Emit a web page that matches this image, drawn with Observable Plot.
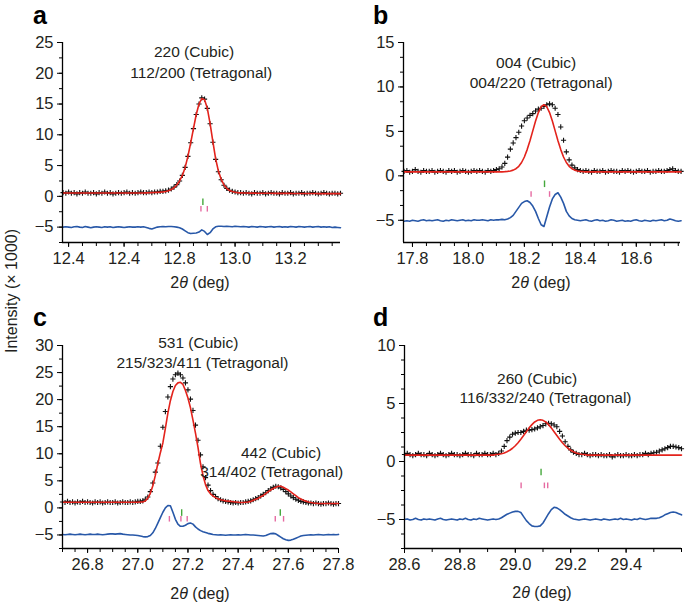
<!DOCTYPE html>
<html><head><meta charset="utf-8">
<script src="https://cdn.jsdelivr.net/npm/d3@7"></script>
<script src="https://cdn.jsdelivr.net/npm/@observablehq/plot@0.6"></script>
<style>
body{margin:0;background:#fff;}
#root{position:relative;width:685px;height:603px;overflow:hidden;background:#fff;}
#root svg.pl{position:absolute;}
</style></head><body><div id="root"></div>
<script>
// ---------- data, sampling step 0.01 deg ----------
const stepDeg = 0.01;

// Panel a : 220 (Cubic)
const startA = 12.38;
const obsA = [0.6,0.5,0.7,0.5,0.6,0.4,0.6,0.5,0.7,0.5,
 0.5,0.6,0.4,0.6,0.5,0.7,0.5,0.6,0.4,0.5,
 0.6,0.5,0.6,0.7,0.5,0.6,0.5,0.6,0.7,0.6,
 0.6,0.7,0.6,0.7,0.7,0.8,0.8,0.9,1.0,1.2,
 1.5,1.9,2.5,3.4,4.7,6.5,8.7,11.0,13.3,15.0,
 16.0,15.8,14.3,11.8,8.8,6.0,4.0,2.7,1.8,1.3,
 1.0,0.8,0.7,0.6,
 0.6,0.5,0.6,0.5,0.4,0.6,0.5,0.5,0.6,0.4,
 0.5,0.6,0.5,0.5,0.4,0.6,0.5,0.5,0.6,0.4,
 0.5,0.5,0.6,0.4,0.5,0.5,0.6,0.5,0.4,0.5,
 0.6,0.5,0.4,0.5,0.5,0.4,0.5];
const calcA = [0.55,0.55,0.55,0.55,0.55,0.55,0.55,0.55,0.55,0.55,
 0.55,0.55,0.55,0.55,0.55,0.55,0.55,0.55,0.55,0.55,
 0.55,0.55,0.55,0.55,0.55,0.55,0.55,0.55,0.55,0.55,
 0.57,0.58,0.6,0.62,0.65,0.68,0.73,0.8,0.9,1.1,
 1.4,1.85,2.5,3.4,4.7,6.5,8.7,11.0,13.3,15.0,
 15.9,15.7,14.3,11.8,8.9,6.1,4.1,2.75,1.85,1.3,
 0.95,0.78,0.67,0.6,
 0.57,0.55,0.54,0.53,0.52,0.52,0.51,0.51,0.5,0.5,
 0.5,0.5,0.49,0.49,0.49,0.48,0.48,0.48,0.48,0.47,
 0.47,0.47,0.47,0.46,0.46,0.46,0.46,0.46,0.45,0.45,
 0.45,0.45,0.45,0.45,0.44,0.44,0.44];
const diffA = [-5.0,-4.95,-5.0,-5.05,-4.95,-4.9,-5.0,-5.05,-4.9,-5.0,
 -5.1,-5.0,-4.95,-5.0,-5.05,-4.95,-5.0,-4.95,-5.05,-5.0,
 -4.95,-5.0,-5.05,-5.0,-4.95,-5.0,-5.0,-4.95,-5.0,-4.95,
 -5.05,-5.2,-5.3,-5.15,-5.0,-4.95,-4.9,-4.95,-4.9,-4.9,
 -4.95,-5.0,-5.1,-5.3,-5.6,-5.9,-6.05,-6.0,-5.95,-5.8,
 -5.45,-5.7,-6.2,-5.9,-5.3,-4.95,-4.85,-4.85,-4.9,-4.85,
 -4.9,-4.95,-4.85,-4.9,-4.95,-4.9,-4.95,-5.0,-4.9,-4.95,
 -5.0,-4.9,-4.95,-5.0,-4.95,-4.9,-5.0,-4.95,-4.9,-5.0,
 -4.95,-5.0,-4.9,-4.95,-5.0,-4.9,-4.95,-5.0,-4.95,-4.9,
 -5.0,-4.95,-4.9,-5.0,-4.95,-5.0,-4.95,-5.05,-5.0,-5.05,-5.1];
const cubicA = [12.884];
const tetraA = [12.877, 12.900];
const xTicksA = [12.4, 12.6, 12.8, 13.0, 13.2];
const xTickLabelsA = ["12.4", "12.4", "12.8", "13.0", "13.2"];
const yTicksA = [-5, 0, 5, 10, 15, 20, 25];
const notesA = [{x: 12.852, y: 23.4, t: "220 (Cubic)"}, {x: 12.878, y: 20.0, t: "112/200 (Tetragonal)"}];

// Panel b : 004 (Cubic)
const startB = 17.77;
const obsB = [0.5,0.6,0.4,0.5,0.7,0.5,0.4,0.6,0.5,0.5,
 0.6,0.4,0.5,0.6,0.5,0.4,0.6,0.5,0.6,0.4,
 0.5,0.6,0.5,0.4,0.5,0.6,0.5,0.6,0.5,0.4,
 0.6,0.5,0.6,0.7,0.8,1.0,1.4,2.1,3.0,3.7,
 4.3,4.9,5.6,6.2,6.5,6.8,7.0,7.3,7.5,7.6,
 7.8,8.0,8.1,8.0,7.6,6.9,5.5,4.0,2.7,1.8,
 1.2,0.9,0.7,0.6,0.5,0.6,0.5,0.4,0.6,0.5,
 0.5,0.6,0.4,0.5,0.6,0.5,0.5,0.4,0.6,0.5,
 0.6,0.5,0.4,0.5,0.6,0.5,0.5,0.6,0.4,0.5,
 0.5,0.6,0.5,0.5,0.6,0.7,0.8,0.6,0.5,0.5];
const calcB = [0.45,0.45,0.45,0.45,0.45,0.45,0.45,0.45,0.45,0.45,
 0.45,0.45,0.45,0.45,0.45,0.45,0.45,0.45,0.45,0.45,
 0.45,0.45,0.45,0.45,0.45,0.45,0.45,0.45,0.45,0.45,
 0.45,0.45,0.45,0.45,0.45,0.45,
 0.47,0.5,0.55,0.64,0.8,1.07,1.5,2.12,2.95,3.95,
 5.06,6.17,7.12,7.77,8.0,7.77,7.12,6.17,5.06,3.95,
 2.95,2.12,1.5,1.07,0.8,0.64,0.55,0.5,0.47,
 0.45,0.45,0.45,0.45,0.45,0.45,0.45,0.45,0.45,0.45,
 0.45,0.45,0.45,0.45,0.45,0.45,0.45,0.45,0.45,0.45,
 0.45,0.45,0.45,0.45,0.45,0.45,0.45,0.45,0.45,0.45,
 0.45,0.45,0.45,0.45,0.45];
const diffB = [-5.1,-5.05,-5.1,-5.0,-5.05,-5.1,-5.0,-4.95,-5.05,-5.0,
 -5.05,-5.0,-4.95,-5.05,-5.1,-5.0,-5.05,-4.95,-5.0,-5.05,
 -5.0,-4.95,-5.05,-5.0,-5.05,-4.95,-5.0,-5.0,-4.95,-5.0,
 -5.05,-4.95,-5.0,-4.95,-4.95,-4.9,-4.95,-4.85,-4.7,-4.45,
 -4.0,-3.55,-3.1,-2.9,-2.8,-3.0,-3.4,-4.0,-4.8,-5.5,
 -5.7,-4.6,-3.5,-2.6,-2.1,-1.9,-2.4,-3.1,-4.0,-4.5,
 -4.8,-4.95,-5.0,-5.05,-5.0,-4.95,-5.05,-5.1,-5.0,-4.95,
 -5.05,-5.0,-5.1,-5.05,-4.95,-5.0,-5.1,-5.05,-5.0,-5.1,
 -5.05,-5.1,-5.0,-4.95,-5.05,-5.1,-5.0,-5.05,-5.1,-5.0,
 -5.05,-5.0,-4.95,-5.05,-5.0,-4.85,-4.95,-5.05,-5.1,-5.05];
const cubicB = [18.272];
const tetraB = [18.224, 18.290];
const xTicksB = [17.8, 18.0, 18.2, 18.4, 18.6];
const xTickLabelsB = ["17.8", "18.0", "18.2", "18.4", "18.6"];
const yTicksB = [-5, 0, 5, 10, 15];
const notesB = [{x: 18.242, y: 12.64, t: "004 (Cubic)"}, {x: 18.26, y: 10.4, t: "004/220 (Tetragonal)"}];

// Panel c : 531 and 442 (Cubic)
const startC = 26.70;
const obsC = [1.1,1.0,1.2,1.0,1.1,0.9,1.1,1.0,1.2,1.0,
 1.1,1.0,0.9,1.1,1.0,1.1,0.9,1.0,1.1,1.0,
 1.0,1.1,0.9,1.0,1.1,1.0,1.0,1.1,1.0,1.1,
 1.2,1.2,1.3,1.6,2.0,3.0,4.6,6.6,8.3,11.4,
 14.9,17.8,20.5,22.4,23.8,24.6,24.9,24.6,24.0,23.1,
 21.8,20.1,18.0,15.3,12.5,9.8,7.6,5.6,4.2,3.2,
 2.5,2.1,1.7,1.5,1.3,1.2,1.1,1.0,0.9,1.0,
 0.9,1.0,1.0,1.1,1.2,1.3,1.5,1.7,1.9,2.2,
 2.5,2.8,3.2,3.5,3.8,4.0,3.9,3.7,3.4,3.0,
 2.6,2.2,1.9,1.6,1.4,1.2,1.1,1.0,0.9,0.9,
 0.8,0.9,0.8,0.7,0.8,0.8,0.9,0.8,0.7,0.8,0.8];
const calcC = [1.05,1.05,1.05,1.05,1.05,1.05,1.05,1.05,1.05,1.05,
 1.05,1.05,1.05,1.05,1.05,1.05,1.05,1.05,1.05,1.05,
 1.05,1.05,1.05,1.05,1.05,1.05,1.05,1.05,1.05,1.05,
 1.05,1.08,1.1,1.3,1.8,2.7,4.1,6.0,8.2,10.2,
 12.0,14.7,17.5,19.8,21.5,22.6,23.1,23.2,22.8,21.7,
 20.3,18.5,16.2,13.8,11.2,8.2,6.0,4.3,3.2,2.6,
 2.2,1.9,1.7,1.5,1.4,1.3,1.25,1.2,1.15,1.1,
 1.05,1.0,1.0,1.05,1.1,1.2,1.4,1.6,1.8,2.05,
 2.3,2.65,3.0,3.3,3.6,3.8,4.0,4.0,3.8,3.55,
 3.3,2.95,2.6,2.25,1.9,1.65,1.4,1.25,1.1,1.0,
 0.9,0.85,0.8,0.8,0.8,0.8,0.8,0.8,0.8,0.8,0.8];
const diffC = [-4.9,-4.95,-4.9,-4.85,-4.9,-4.95,-4.9,-4.85,-4.9,-4.95,
 -4.9,-4.85,-4.9,-4.9,-4.85,-4.9,-4.95,-4.9,-4.85,-4.8,
 -4.8,-4.85,-4.8,-4.75,-4.85,-4.9,-4.95,-5.0,-5.0,-5.05,
 -5.1,-5.2,-5.3,-5.35,-5.3,-5.1,-4.6,-3.8,-2.8,-1.8,
 -0.8,0.0,0.45,0.4,-0.8,-2.1,-3.0,-3.4,-3.4,-3.2,
 -2.9,-2.8,-3.0,-3.5,-3.9,-4.2,-4.4,-4.55,-4.7,-4.8,
 -4.9,-4.95,-5.0,-4.95,-5.0,-5.05,-5.0,-4.95,-5.0,-5.0,
 -4.95,-5.0,-4.95,-4.9,-4.95,-5.0,-5.0,-5.05,-5.1,-5.15,
 -5.2,-5.1,-4.9,-4.75,-4.7,-4.8,-5.1,-5.4,-5.7,-5.9,
 -6.0,-5.95,-5.8,-5.6,-5.4,-5.2,-5.1,-5.05,-5.0,-4.95,
 -5.0,-4.95,-4.9,-4.95,-5.0,-4.95,-4.9,-4.95,-4.9,-4.95,-4.9];
const cubicC = [27.175, 27.568];
const tetraC = [27.126, 27.172, 27.197, 27.548, 27.581];
const xTicksC = [26.8, 27.0, 27.2, 27.4, 27.6, 27.8];
const xTickLabelsC = ["26.8", "27.0", "27.2", "27.4", "27.6", "27.8"];
const yTicksC = [-5, 0, 5, 10, 15, 20, 25, 30];
const notesC = [{x: 27.241, y: 30.5, t: "531 (Cubic)"}, {x: 27.258, y: 26.8, t: "215/323/411 (Tetragonal)"},
 {x: 27.571, y: 10.1, t: "442 (Cubic)"}, {x: 27.534, y: 6.7, t: "314/402 (Tetragonal)"}];

// Panel d : 260 (Cubic)
const startD = 28.60;
const obsD = [0.6,0.7,0.6,0.5,0.6,0.7,0.6,0.6,0.5,0.7,
 0.6,0.5,0.6,0.7,0.6,0.5,0.6,0.7,0.6,0.6,
 0.5,0.6,0.7,0.6,0.6,0.5,0.7,0.6,0.6,0.7,
 0.6,0.6,0.7,0.6,0.7,0.9,1.3,1.8,2.1,2.35,
 2.45,2.5,2.5,2.6,2.7,2.7,2.75,2.8,2.9,3.0,
 3.1,3.25,3.3,3.25,3.15,3.0,2.6,2.2,1.7,1.3,
 1.0,0.8,0.7,0.6,0.6,0.7,0.6,0.5,0.6,0.6,
 0.5,0.6,0.5,0.5,0.6,0.4,0.5,0.6,0.5,0.5,
 0.6,0.5,0.5,0.6,0.5,0.6,0.6,0.7,0.6,0.7,
 0.75,0.8,0.9,1.0,1.1,1.2,1.3,1.3,1.25,1.2,1.1];
const calcD = [0.55,0.55,0.55,0.55,0.55,0.55,0.55,0.55,0.55,0.55,
 0.55,0.55,0.55,0.55,0.55,0.55,0.55,0.55,0.55,0.55,
 0.55,0.55,0.55,0.55,0.55,0.55,0.55,0.55,0.55,0.55,
 0.55,0.55,0.55,
 0.6,0.63,0.67,0.74,0.84,0.97,1.14,1.36,1.62,1.92,
 2.24,2.57,2.90,3.18,3.41,3.55,3.60,3.55,3.41,3.18,
 2.90,2.57,2.24,1.92,1.62,1.36,1.14,0.97,0.84,0.74,
 0.67,0.63,0.6,
 0.55,0.55,0.55,0.55,0.55,0.55,0.55,0.55,0.55,0.55,
 0.55,0.55,0.55,0.55,0.55,0.55,0.55,0.55,0.55,0.55,
 0.55,0.55,0.55,0.55,0.55,0.55,0.55,0.55,0.55,0.55,
 0.55,0.55,0.55,0.55,0.55];
const diffD = [-5.0,-4.95,-5.05,-5.0,-4.9,-5.0,-5.05,-4.95,-5.0,-4.95,
 -5.0,-5.05,-4.95,-4.9,-5.0,-5.05,-5.0,-4.95,-5.0,-5.05,
 -4.95,-5.0,-4.9,-5.0,-5.05,-4.95,-5.0,-4.9,-4.95,-5.0,
 -5.05,-5.0,-4.95,-5.0,-4.95,-4.85,-4.7,-4.55,-4.45,-4.35,
 -4.3,-4.3,-4.4,-4.75,-5.1,-5.35,-5.55,-5.6,-5.6,-5.55,
 -5.3,-4.9,-4.5,-4.15,-3.95,-4.0,-4.15,-4.35,-4.55,-4.7,
 -4.85,-4.95,-5.0,-5.05,-5.0,-4.95,-5.0,-5.05,-5.0,-4.95,
 -5.0,-5.05,-4.95,-5.0,-5.05,-5.0,-4.95,-5.0,-4.9,-5.0,
 -4.95,-5.0,-5.05,-4.95,-5.0,-4.9,-4.95,-5.0,-4.95,-4.9,
 -4.9,-4.9,-4.85,-4.75,-4.6,-4.5,-4.4,-4.35,-4.4,-4.5,-4.6];
const cubicD = [29.093];
const tetraD = [29.021, 29.105, 29.117];
const xTicksD = [28.6, 28.8, 29.0, 29.2, 29.4];
const xTickLabelsD = ["28.6", "28.8", "29.0", "29.2", "29.4"];
const yTicksD = [-5, 0, 5, 10];
const notesD = [{x: 29.079, y: 7.08, t: "260 (Cubic)"}, {x: 29.109, y: 5.43, t: "116/332/240 (Tetragonal)"}];

// ---------- drawing ----------
const FONT = '"Liberation Sans", Arial, Helvetica, sans-serif';
const TXT = "#231f20";
const RED = "#e3231c", BLUE = "#2858a8", GREEN = "#45a83c", PINK = "#e66ba2";
const TICKFONT = 16.5;

const panels = [
  {left: 0, top: 30, width: 342, height: 260, mL: 62, mR: 2, mT: 12, mB: 48,
   xDomain: [12.378, 13.38], yDomain: [-7.5, 25], start: startA, obs: obsA, calc: calcA, diff: diffA,
   cubic: cubicA, tetra: tetraA, xTicks: xTicksA, xLabels: xTickLabelsA, xMinor: [12.4, 13.38, 0.05],
   yTicks: yTicksA, yMinor: [-7.5, 25, 2.5], notes: notesA},
  {left: 341, top: 30, width: 341, height: 260, mL: 62, mR: 2, mT: 12, mB: 48,
   xDomain: [17.768, 18.758], yDomain: [-7.5, 15], start: startB, obs: obsB, calc: calcB, diff: diffB,
   cubic: cubicB, tetra: tetraB, xTicks: xTicksB, xLabels: xTickLabelsB, xMinor: [17.8, 18.758, 0.05],
   yTicks: yTicksB, yMinor: [-5, 15, 5 / 3], notes: notesB},
  {left: 0, top: 335, width: 342, height: 260, mL: 62, mR: 4, mT: 10, mB: 47,
   xDomain: [26.7, 27.8], yDomain: [-7.5, 30], start: startC, obs: obsC, calc: calcC, diff: diffC,
   cubic: cubicC, tetra: tetraC, xTicks: xTicksC, xLabels: xTickLabelsC, xMinor: [26.7, 27.81, 0.05],
   yTicks: yTicksC, yMinor: [-7.5, 30, 2.5], notes: notesC},
  {left: 342, top: 335, width: 341, height: 260, mL: 62, mR: 2, mT: 10, mB: 47,
   xDomain: [28.6, 29.6], yDomain: [-7.5, 10], start: startD, obs: obsD, calc: calcD, diff: diffD,
   cubic: cubicD, tetra: tetraD, xTicks: xTicksD, xLabels: xTickLabelsD, xMinor: [28.6, 29.61, 0.1],
   yTicks: yTicksD, yMinor: [-7.5, 10, 1.25], notes: notesD}
];

const root = document.getElementById("root");
const fmtY = d => d < 0 ? "\u2212" + Math.abs(d) : String(d);

for (const p of panels) {
  const toPts = ys => ys.map((y, i) => ({x: +(p.start + i * stepDeg).toFixed(3), y}));
  const obs = toPts(p.obs), calc = toPts(p.calc), diff = toPts(p.diff);
  const labelMap = new Map(p.xTicks.map((v, i) => [v, p.xLabels[i]]));
  const xMinor = d3.range(p.xMinor[0], p.xMinor[1], p.xMinor[2]).map(v => +v.toFixed(3));
  const yMinor = d3.range(p.yMinor[0], p.yMinor[1] + 1e-6, p.yMinor[2]).map(v => +v.toFixed(3));
  const pxPerUnit = (p.height - p.mT - p.mB) / (p.yDomain[1] - p.yDomain[0]);
  const hh = 3.3 / pxPerUnit;
  const svg = Plot.plot({
    width: p.width, height: p.height,
    marginLeft: p.mL, marginRight: p.mR, marginTop: p.mT, marginBottom: p.mB,
    x: {domain: p.xDomain, label: null},
    y: {domain: p.yDomain, label: null},
    style: {fontFamily: FONT, fontSize: TICKFONT + "px", color: TXT, background: "transparent", overflow: "visible"},
    marks: [
      Plot.ruleX(p.cubic, {x: d => d, y1: -0.95 + hh, y2: -0.95 - hh, stroke: GREEN, strokeWidth: 1.4}),
      Plot.ruleX(p.tetra, {x: d => d, y1: -2.1 + hh * 0.85, y2: -2.1 - hh * 0.85, stroke: PINK, strokeWidth: 1.4}),
      Plot.dot(obs, {x: "x", y: "y", symbol: "plus", r: 1.8, stroke: "#111", strokeWidth: 1.1}),
      Plot.line(calc, {x: "x", y: "y", stroke: RED, strokeWidth: 1.6}),
      Plot.line(diff, {x: "x", y: "y", stroke: BLUE, strokeWidth: 1.6}),
      Plot.text(p.notes, {x: "x", y: "y", text: "t", fontSize: 15.5, fill: TXT}),
      Plot.ruleX([p.xDomain[0]], {stroke: "#000", strokeWidth: 1.3}),
      Plot.ruleY([p.yDomain[0]], {stroke: "#000", strokeWidth: 1.3}),
      Plot.axisX({ticks: xMinor, tickSize: 4, tickFormat: () => "", label: null, stroke: "#000"}),
      Plot.axisX({ticks: p.xTicks, tickSize: 5, tickPadding: 5, tickFormat: d => labelMap.get(d), label: null, fontSize: TICKFONT, stroke: "#000", fill: TXT}),
      Plot.axisY({ticks: yMinor, tickSize: 3, tickFormat: () => "", label: null, stroke: "#000"}),
      Plot.axisY({ticks: p.yTicks, tickSize: 5, tickPadding: 4, tickFormat: fmtY, label: null, fontSize: TICKFONT, stroke: "#000", fill: TXT})
    ]
  });
  svg.classList.add("pl");
  svg.style.left = p.left + "px";
  svg.style.top = p.top + "px";
  root.appendChild(svg);
}

// overlay: panel letters, axis titles
const ov = d3.select(root).append("svg")
  .attr("width", 685).attr("height", 603)
  .style("position", "absolute").style("left", 0).style("top", 0)
  .style("font-family", FONT).style("fill", TXT).style("pointer-events", "none");

const letters = [{t: "a", x: 33, y: 24}, {t: "b", x: 373, y: 24}, {t: "c", x: 33, y: 326}, {t: "d", x: 373, y: 326}];
ov.selectAll("text.letter").data(letters).join("text").attr("class", "letter")
  .attr("x", d => d.x).attr("y", d => d.y).attr("font-size", 25).attr("font-weight", "bold")
  .style("fill", "#000").text(d => d.t);

const xTitles = [{x: 200, y: 287.5}, {x: 541, y: 287.5}, {x: 200, y: 599}, {x: 542, y: 598}];
const xt = ov.selectAll("text.xt").data(xTitles).join("text").attr("class", "xt")
  .attr("x", d => d.x).attr("y", d => d.y).attr("text-anchor", "middle").attr("font-size", 16);
xt.append("tspan").text("2");
xt.append("tspan").attr("font-style", "italic").text("\u03b8");
xt.append("tspan").text(" (deg)");

ov.append("text").attr("transform", "translate(16.5,291) rotate(-90)")
  .attr("text-anchor", "middle").attr("font-size", 16).text("Intensity (\u00d7 1000)");
</script></body></html>
